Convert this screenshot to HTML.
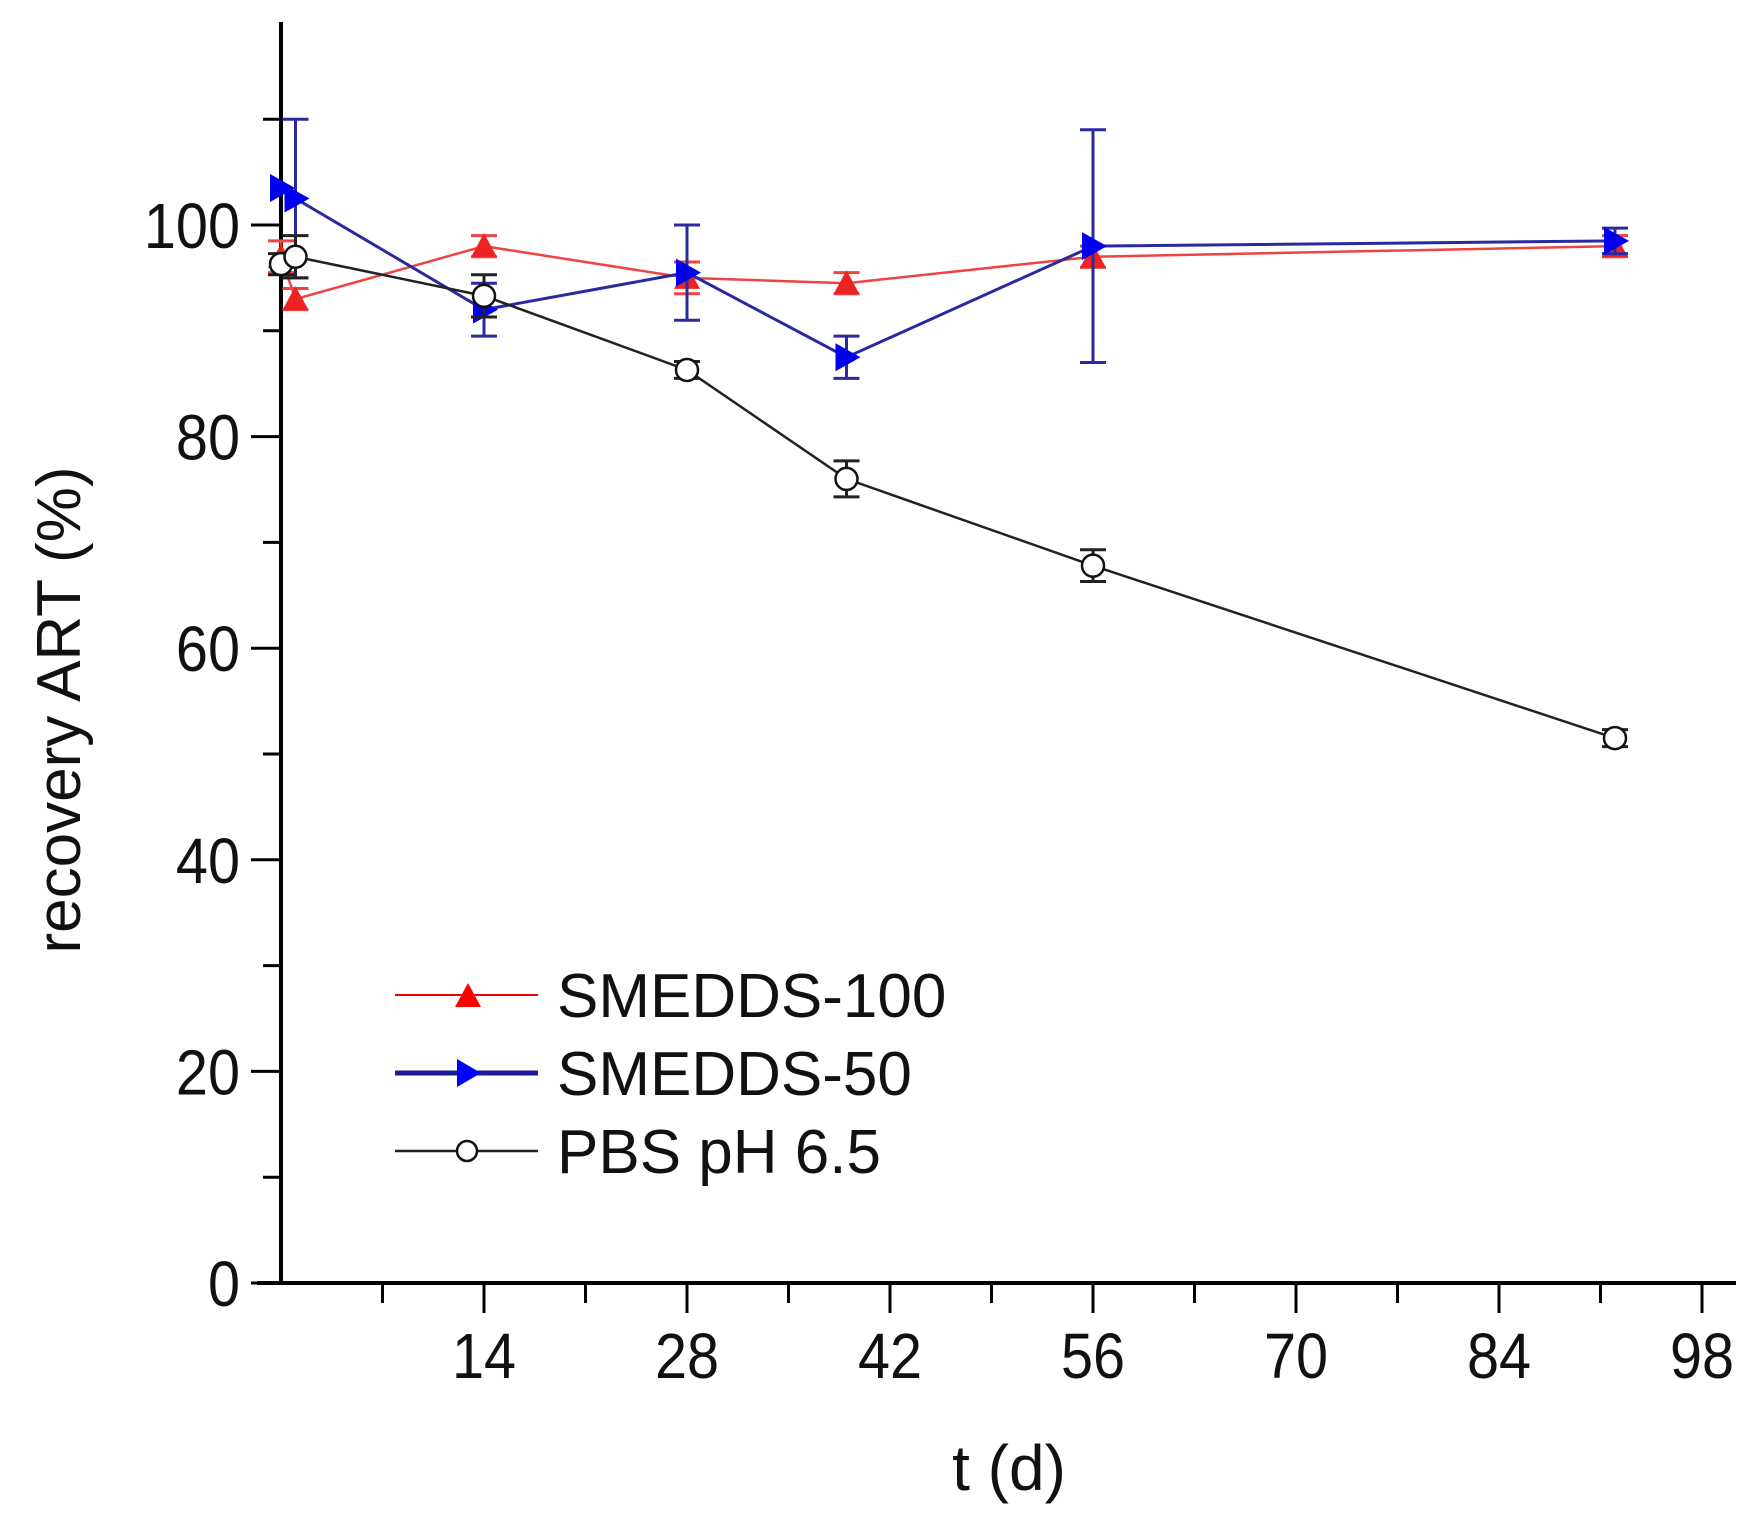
<!DOCTYPE html>
<html><head><meta charset="utf-8"><style>html,body{margin:0;padding:0;background:#fff}svg{display:block}</style></head>
<body>
<svg width="1758" height="1529" viewBox="0 0 1758 1529" xmlns="http://www.w3.org/2000/svg" font-family="Liberation Sans, sans-serif">
<rect width="1758" height="1529" fill="#fff"/>
<g stroke="#000" stroke-width="4">
<line x1="281" y1="22" x2="281" y2="1285"/>
<line x1="257" y1="1283" x2="1736" y2="1283"/>
</g>
<g stroke="#000" stroke-width="3" id="ticks"></g>
<g id="labels" font-size="64" fill="#111"></g>
<text transform="translate(80,710) rotate(-90)" font-size="62" text-anchor="middle" fill="#111">recovery ART (%)</text>
<text x="1009" y="1490" font-size="64" text-anchor="middle" fill="#111">t (d)</text>
<g id="plot"></g>
<g font-size="62" fill="#111" transform="translate(0,-5)">
<line x1="395" y1="1000" x2="538" y2="1000" stroke="#e00" stroke-width="2"/>
<polygon points="455,1012 481,1012 468,988" fill="#f00"/>
<text x="557" y="1022">SMEDDS-100</text>
<line x1="395" y1="1078" x2="538" y2="1078" stroke="#1a1a9a" stroke-width="5"/>
<polygon points="457,1064 457,1092 481,1078" fill="#00f"/>
<text x="557" y="1100">SMEDDS-50</text>
<line x1="395" y1="1156" x2="538" y2="1156" stroke="#222" stroke-width="2.5"/>
<circle cx="467" cy="1156" r="10" fill="#fff" stroke="#111" stroke-width="2.5"/>
<text x="557" y="1178">PBS pH 6.5</text>
</g>
<script>
const X=d=>281+d*14.5, Y=v=>1283-v*10.58, NS="http://www.w3.org/2000/svg";
function el(p,t,a){const e=document.createElementNS(NS,t);for(const k in a)e.setAttribute(k,a[k]);p.appendChild(e);return e;}
const tk=document.getElementById('ticks'),lb=document.getElementById('labels'),pl=document.getElementById('plot');
for(let d=7;d<=98;d+=7){const l=(d%14==0)?30:20;el(tk,'line',{x1:X(d),y1:1283,x2:X(d),y2:1283+l});
 if(d%14==0){const t=el(lb,'text',{x:X(d),y:1378,'text-anchor':'middle',transform:`translate(${X(d)},0) scale(0.9,1) translate(${-X(d)},0)`});t.textContent=d;}}
for(let v=0;v<=110;v+=10){const l=(v%20==0)?30:18;el(tk,'line',{x1:281-l,y1:Y(v),x2:281,y2:Y(v)});
 if(v%20==0){const t=el(lb,'text',{x:240,y:Y(v)+23,'text-anchor':'end',transform:`translate(240,0) scale(0.9,1) translate(-240,0)`});t.textContent=v;}}
const S=[
{c:'#e22',lc:'#e44',w:2.5,m:'tri',d:[[0,97,1.5],[1,93,1],[14,98,1],[28,95,1.5],[39,94.5,1],[56,97,1],[92,98,1]]},
{c:'#00e',lc:'#2a2aa0',w:3,m:'rt',d:[[0,103.5,0],[1,102.5,7.5],[14,92,2.5],[28,95.5,4.5],[39,87.5,2],[56,98,11],[92,98.5,1.2]]},
{c:'#000',lc:'#222',w:2.5,m:'c',d:[[0,96.3,1],[1,97,2],[14,93.3,2],[28,86.3,0.8],[39,76,1.7],[56,67.8,1.5],[92,51.5,0.8]]}];
for(const s of S){
 el(pl,'polyline',{points:s.d.map(p=>X(p[0])+','+Y(p[1])).join(' '),fill:'none',stroke:s.lc,'stroke-width':s.w});
 for(const p of s.d){const x=X(p[0]),y=Y(p[1]);
  if(p[2]>0){const a=Y(p[1]+p[2]),b=Y(p[1]-p[2]);
   el(pl,'line',{x1:x,y1:a,x2:x,y2:b,stroke:s.lc,'stroke-width':3});
   el(pl,'line',{x1:x-13,y1:a,x2:x+13,y2:a,stroke:s.lc,'stroke-width':3});
   el(pl,'line',{x1:x-13,y1:b,x2:x+13,y2:b,stroke:s.lc,'stroke-width':3});}
  if(s.m=='tri')el(pl,'polygon',{points:`${x-13},${y+11} ${x+13},${y+11} ${x},${y-13}`,fill:s.c});
  else if(s.m=='rt')el(pl,'polygon',{points:`${x-11},${y-14} ${x-11},${y+14} ${x+14},${y}`,fill:s.c});
  else el(pl,'circle',{cx:x,cy:y,r:11,fill:'#fff',stroke:'#111','stroke-width':2.5});}}
</script>
</svg>
</body></html>
